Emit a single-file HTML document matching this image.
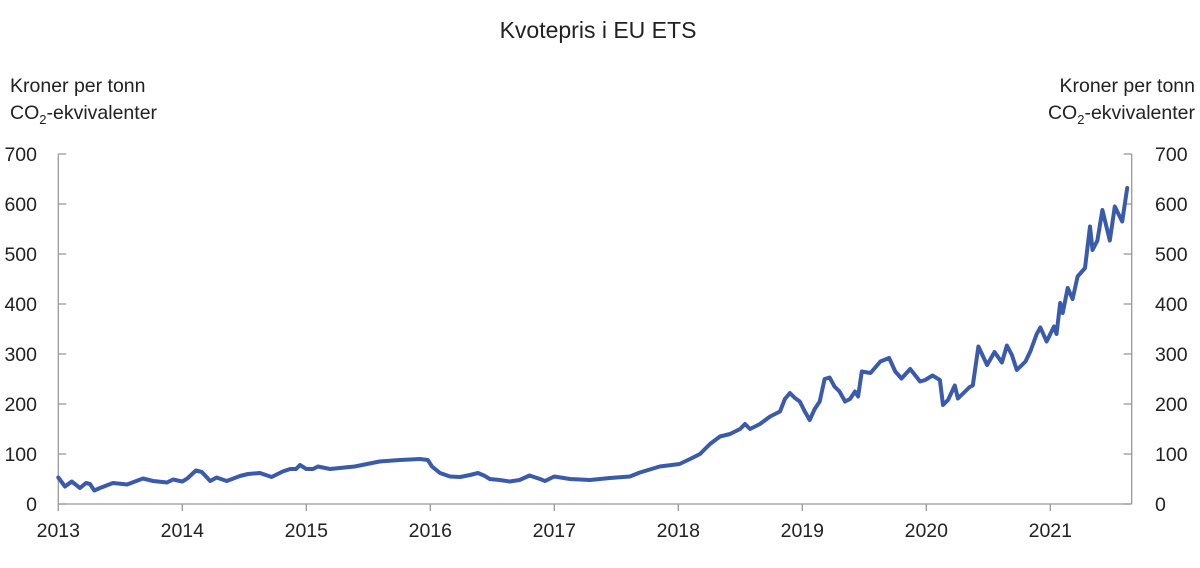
<!DOCTYPE html>
<html><head><meta charset="utf-8"><style>
html,body{margin:0;padding:0;background:#fff;}
svg text{font-family:"Liberation Sans",sans-serif;fill:#222;}
</style></head><body>
<svg id="chart" width="1200" height="563" xmlns="http://www.w3.org/2000/svg">
<text x="598" y="38" font-size="23" text-anchor="middle">Kvotepris i EU ETS</text>
<text x="10" y="92" font-size="19.5">Kroner per tonn</text>
<text x="10" y="119" font-size="19.5">CO<tspan font-size="13" dy="5">2</tspan><tspan dy="-5">-ekvivalenter</tspan></text>
<text x="1195" y="92" font-size="19.5" text-anchor="end">Kroner per tonn</text>
<text x="1195" y="119" font-size="19.5" text-anchor="end">CO<tspan font-size="13" dy="5">2</tspan><tspan dy="-5">-ekvivalenter</tspan></text>
<g id="axes"></g>
<path id="line" fill="none" stroke="#3a5bab" stroke-width="4" stroke-linejoin="round" stroke-linecap="round"/>
</svg>
<script>
const yTicks=[0,100,200,300,400,500,600,700];
const xTicks=[2013,2014,2015,2016,2017,2018,2019,2020,2021];
const dates=[0,0.054,0.108,0.175,0.223,0.256,0.29,0.336,0.441,0.554,0.683,0.764,0.877,0.925,1.0,1.04,1.11,1.157,1.225,1.277,1.358,1.465,1.53,1.626,1.72,1.81,1.87,1.917,1.949,2.0,2.054,2.094,2.19,2.39,2.59,2.755,2.917,2.98,3.014,3.078,3.159,3.24,3.32,3.385,3.44,3.48,3.56,3.64,3.72,3.80,3.885,3.925,4.0,4.126,4.288,4.449,4.61,4.69,4.85,5.01,5.095,5.175,5.256,5.336,5.417,5.498,5.538,5.578,5.659,5.74,5.82,5.86,5.90,5.94,5.98,6.02,6.06,6.10,6.14,6.18,6.22,6.26,6.30,6.345,6.385,6.425,6.45,6.48,6.55,6.63,6.70,6.75,6.80,6.87,6.95,6.99,7.05,7.11,7.135,7.175,7.23,7.255,7.35,7.375,7.42,7.49,7.55,7.61,7.65,7.69,7.73,7.80,7.84,7.89,7.92,7.97,8.03,8.05,8.08,8.10,8.14,8.18,8.22,8.28,8.32,8.34,8.38,8.42,8.48,8.52,8.58,8.62,8.656];
const prices=[53,35,45,32,42,40,27,32,42,39,51,46,43,49,45,51,67,64,46,53,46,56,60,62,54,65,70,70,78,70,70,75,70,75,85,88,90,88,75,62,55,54,58,62,56,50,48,45,48,57,50,46,55,50,48,52,55,63,75,80,90,100,120,135,140,150,160,150,160,175,185,210,222,212,205,185,168,190,205,250,253,235,225,205,210,225,215,265,262,285,292,265,251,270,245,248,257,248,198,208,237,211,234,237,315,278,304,283,317,298,268,285,306,340,353,325,355,340,402,382,432,410,455,472,555,508,527,588,527,595,565,632];
const X0=58.3,PX=124,Y0=504,PY=0.5;
const xs=d=>X0+d*PX, ys=v=>Y0-v*PY;
const ax=document.getElementById('axes');
const NS='http://www.w3.org/2000/svg';
function mk(tag,attrs){const e=document.createElementNS(NS,tag);for(const k in attrs)e.setAttribute(k,attrs[k]);ax.appendChild(e);return e;}
let l=mk('line',{x1:X0,y1:ys(700),x2:X0,y2:Y0,stroke:'#999','stroke-width':1.3});


l=mk('line',{x1:1131.7,y1:ys(700),x2:1131.7,y2:Y0,stroke:'#999','stroke-width':1.3});


l=mk('line',{x1:X0,y1:Y0,x2:1131.7,y2:Y0,stroke:'#999','stroke-width':1.3});


yTicks.forEach(v=>{
 const y=ys(v);
 mk('line',{x1:X0,y1:y,x2:X0+8,y2:y,stroke:'#999','stroke-width':1.3});
 mk('line',{x1:1123.7,y1:y,x2:1131.7,y2:y,stroke:'#999','stroke-width':1.3});
 let t=mk('text',{x:37,y:y+7,'font-size':19.5,'text-anchor':'end'});t.textContent=v;
 
 
 t=mk('text',{x:1155,y:y+7,'font-size':19.5});t.textContent=v;
 
 
});
xTicks.forEach(yr=>{
 const x=xs(yr-2013);
 mk('line',{x1:x,y1:Y0,x2:x,y2:Y0+7,stroke:'#999','stroke-width':1.3});
 const t=mk('text',{x:x,y:537,'font-size':19.5,'text-anchor':'middle'});t.textContent=yr;
 
 
});
document.getElementById('line').setAttribute('d',dates.map((d,i)=>(i?'L':'M')+xs(d).toFixed(1)+','+ys(prices[i]).toFixed(1)).join(''));
</script>
</body></html>
